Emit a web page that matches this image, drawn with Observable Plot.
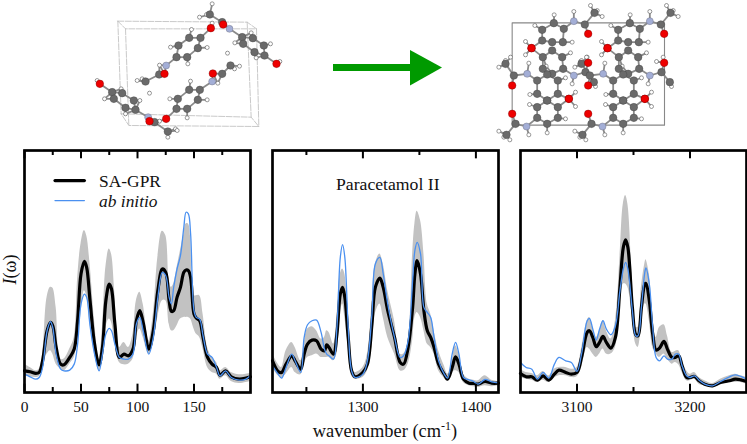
<!DOCTYPE html>
<html><head><meta charset="utf-8">
<script src="https://cdn.jsdelivr.net/npm/d3@7"></script>
<script src="https://cdn.jsdelivr.net/npm/@observablehq/plot@0.6"></script>
<style>
html,body{margin:0;padding:0;background:#fff}
#c{position:relative;width:747px;height:444px;overflow:hidden;font-family:"Liberation Serif",serif;color:#111}
#xl{position:absolute;left:285px;top:421px;width:200px;text-align:center;font-size:18.4px;white-space:nowrap}
#xl sup{font-size:12px;line-height:0}
#yl{position:absolute;left:-12px;top:259px;width:44px;text-align:center;font-size:18px;transform:rotate(-90deg)}
</style></head><body><div id="c"></div>
<script>
// Panel 1: 0–200 cm-1
const wn1=[0,5,10,13,16,20,23,25,28,32,35,40,44,47,50,53,55,58,62,66,69,72,75,77,80,84,88,92,96,99,102,105,110,114,118,122,125,128,130,132,135,138,141,143,145,147,150,152,155,158,162,166,170,173,178,183,190,196,200];
const mean1=[65,62,57,60,95,185,210,200,135,85,83,105,130,215,355,393,375,275,145,83,135,275,325,310,205,105,115,110,130,215,245,210,130,185,305,370,360,275,243,245,285,315,360,367,365,345,235,223,215,165,105,85,75,52,65,47,40,43,47];
const high1=[85,75,65,70,115,285,315,313,255,100,100,130,165,340,445,485,470,385,215,100,195,375,430,415,295,135,150,135,175,275,300,265,155,235,405,483,470,335,315,325,375,425,475,505,505,465,290,290,290,235,135,105,90,65,75,60,53,55,57];
const low1=[50,47,45,47,75,115,125,115,85,70,65,85,105,155,235,305,290,205,115,65,105,195,220,210,145,90,83,85,100,165,190,165,115,145,225,275,275,205,185,185,200,220,225,225,225,220,190,175,165,130,75,60,55,40,50,33,27,30,33];
const ab1=[55,47,40,45,75,185,212,195,115,70,65,67,85,145,265,295,285,200,115,65,115,175,192,185,145,105,100,100,115,205,225,185,115,165,285,360,350,285,265,315,370,410,495,540,535,475,245,225,220,170,115,105,75,50,65,45,37,40,52];
// Panel 2: 1220–1420 cm-1
const wn2=[1220,1225,1228,1232,1237,1240,1245,1248,1251,1255,1259,1263,1266,1268,1270,1274,1277,1280,1282,1284,1287,1290,1293,1300,1304,1308,1311,1315,1318,1322,1328,1333,1336,1340,1344,1346,1348,1351,1354,1357,1360,1363,1367,1372,1375,1379,1382,1385,1389,1394,1398,1402,1408,1414,1420];
const mean2=[95,63,60,85,110,95,70,115,145,157,155,130,125,143,135,115,175,295,315,285,165,65,47,60,85,205,315,343,315,245,165,90,85,135,255,355,395,355,245,185,165,135,85,55,40,75,107,85,40,28,27,25,33,28,28];
const high2=[115,85,75,125,150,135,95,145,190,197,185,160,165,185,180,145,225,355,370,355,195,85,60,75,115,265,385,415,385,305,215,115,115,155,415,505,543,515,415,265,235,185,125,80,55,95,140,115,55,40,37,35,50,37,33];
const low2=[75,50,43,55,75,60,53,85,105,110,115,105,105,105,105,95,115,235,265,225,135,50,40,45,65,135,235,265,225,165,115,65,65,85,155,225,240,225,185,145,135,115,65,43,33,60,65,60,30,20,17,15,20,17,20];
const ab2=[80,55,43,75,115,95,60,165,203,215,217,180,130,115,110,100,195,405,443,405,195,65,45,55,95,235,385,405,355,265,165,105,110,155,335,425,450,415,255,240,225,165,95,55,43,115,150,115,45,38,33,25,39,32,29];
// Panel 3: 3050–3250 cm-1
const wn3=[3050,3055,3060,3065,3070,3075,3080,3084,3090,3095,3100,3104,3109,3111,3114,3117,3120,3123,3126,3130,3134,3138,3141,3143,3145,3149,3152,3154,3157,3160,3161,3164,3167,3170,3173,3177,3180,3184,3187,3190,3193,3197,3200,3204,3208,3213,3220,3227,3235,3240,3245,3250];
const mean3=[57,47,47,37,50,37,55,67,60,55,60,105,180,185,165,137,150,168,150,133,165,315,435,457,435,255,173,170,255,325,327,275,175,127,133,153,130,105,105,110,80,45,45,48,35,25,20,30,35,40,38,33];
const high3=[70,60,57,50,63,50,70,75,75,70,75,130,215,225,195,165,185,215,185,160,215,405,565,590,565,335,195,195,315,385,398,355,225,165,195,203,170,120,123,125,95,65,55,60,45,35,27,40,50,55,50,45];
const low3=[45,40,37,30,37,30,43,50,50,45,47,75,135,130,115,105,115,130,115,115,135,255,325,325,315,225,145,135,195,265,265,215,135,115,105,115,100,85,90,83,60,35,35,40,25,20,15,23,30,30,30,25];
const ab3=[90,75,70,40,60,43,85,105,95,90,63,115,215,222,190,157,190,215,190,173,200,305,370,390,370,245,170,170,255,360,373,325,195,105,95,110,100,100,115,115,80,50,45,50,37,25,20,33,47,53,48,40];

const legendLabels=["SA-GPR","ab initio"];
const panelTitle="Paracetamol II";

// Molecular sketches: [x, y, element]
const cellLeft=[[[112,62],[500,65],[528,85],[135,85],[112,62]],[[122,340],[512,350],[535,378],[145,375],[122,340]],[[112,62],[122,340]],[[500,65],[512,350]],[[528,85],[535,378]],[[135,85],[145,375]]];
const molLeft=[
 [[391,83,"O"],[395,68,"H"],[326,112,"C"],[360,112,"C"],[352,143,"C"],[320,170,"C"],[288,170,"C"],[294,135,"C"],[333,87,"H"],[380,141,"H"],[270,140,"H"],[322,190,"H"],[257,195,"N"],[237,194,"H"],[236,222,"C"],[252,220,"O"],[195,243,"C"],[170,240,"H"],[185,235,"H"],[207,278,"H"]],
 [[397,219,"O"],[425,220,"C"],[450,195,"C"],[441,158,"H"],[477,197,"H"],[462,205,"H"],[395,243,"N"],[412,248,"H"],[358,268,"C"],[326,268,"C"],[292,295,"C"],[288,325,"C"],[320,325,"C"],[352,298,"C"],[330,242,"H"],[380,298,"H"],[268,295,"H"],[320,352,"H"],[257,355,"O"],[237,362,"H"]],
 [[395,10,"H"],[357,50,"H"],[378,42,"H"],[388,42,"C"],[425,65,"C"],[428,72,"O"],[447,85,"N"],[432,70,"H"],[485,110,"C"],[517,113,"C"],[550,135,"C"],[552,165,"C"],[522,155,"C"],[488,130,"C"],[512,97,"H"],[463,127,"H"],[527,172,"H"],[570,130,"H"],[588,190,"O"],[598,183,"H"]],
 [[58,250,"O"],[50,240,"H"],[95,275,"C"],[125,278,"C"],[160,300,"C"],[165,328,"C"],[135,322,"C"],[100,295,"C"],[122,265,"H"],[72,295,"H"],[135,340,"H"],[178,300,"H"],[203,350,"N"],[222,365,"C"],[207,362,"O"],[262,393,"C"],[285,385,"H"],[262,410,"H"],[290,390,"H"]]
];
const cellRight=[[[95,67],[552,67],[552,374],[95,374],[95,67]]];
const molRightBase=[
 [[280,62,"N"],[280,33,"H"],[313,72,"C"],[323,100,"O"],[342,37,"C"],[330,15,"H"],[350,30,"H"],[365,48,"H"],[220,68,"C"],[250,85,"C"],[247,125,"C"],[215,125,"C"],[185,120,"C"],[185,88,"C"],[221,43,"H"],[163,75,"H"],[275,125,"H"],[153,143,"O"],[135,123,"H"]],
 [[280,225,"N"],[275,250,"H"],[315,215,"C"],[323,187,"O"],[340,245,"C"],[300,183,"H"],[320,170,"H"],[345,258,"H"],[248,205,"C"],[245,170,"C"],[215,150,"C"],[187,170,"C"],[187,205,"C"],[215,220,"C"],[270,157,"H"],[197,197,"H"],[153,143,"O"],[135,163,"H"]],
 [[140,220,"N"],[145,188,"H"],[100,225,"C"],[95,255,"O"],[75,190,"C"],[55,200,"H"],[90,170,"H"],[75,180,"H"],[170,240,"C"],[200,222,"C"],[232,240,"C"],[232,280,"C"],[200,300,"C"],[170,280,"C"],[148,282,"H"],[255,232,"H"],[265,295,"O"],[285,275,"H"]],
 [[138,378,"N"],[145,403,"H"],[105,370,"C"],[95,340,"O"],[78,403,"C"],[55,392,"H"],[70,410,"H"],[88,418,"H"],[170,352,"C"],[200,370,"C"],[232,352,"C"],[232,320,"C"],[200,300,"C"],[170,320,"C"],[147,312,"H"],[200,397,"H"],[255,355,"H"],[265,295,"O"],[285,318,"H"]]
];
const latticeShift=228;
const arrowColor="#009a00";

const serif='"Liberation Serif",serif';
const blue="#4a90f0", band="#c2c2c2";
const host=document.getElementById("c");
const curve="catmull-rom";

function panel(left,xd,wn,mean,low,high,ab,majors,minors,extra){
  const rows=wn.map((x,i)=>({x,mean:mean[i],low:low[i],high:high[i],ab:ab[i]}));
  const svg=Plot.plot({
    width:242,height:304,marginLeft:10,marginRight:6,marginTop:10,marginBottom:52,
    style:{fontFamily:serif,background:"transparent",color:"#111"},
    x:{domain:xd,axis:null},y:{domain:[0,725],axis:null},
    marks:[
      Plot.areaY(rows,{x:"x",y1:"low",y2:"high",fill:band,curve}),
      Plot.lineY(rows,{x:"x",y:"mean",stroke:"#000",strokeWidth:3.2,curve}),
      Plot.lineY(rows,{x:"x",y:"ab",stroke:blue,strokeWidth:1.3,curve}),
      Plot.ruleX(majors,{y1:0,y2:25,stroke:"#000",strokeWidth:2}),
      Plot.ruleX(majors,{y1:700,y2:725,stroke:"#000",strokeWidth:2}),
      Plot.ruleX(minors,{y1:0,y2:15,stroke:"#000",strokeWidth:2}),
      Plot.ruleX(minors,{y1:710,y2:725,stroke:"#000",strokeWidth:2}),
      Plot.axisX({ticks:majors,tickSize:0,tickPadding:8,fontSize:15.5,label:null,tickFormat:d=>String(d),anchor:"bottom",fill:"#111"}),
      ...(extra||[]),
      Plot.frame({stroke:"#000",strokeWidth:2.7})
    ]
  });
  svg.style.left=(left-10)+"px";svg.style.top="140px";svg.style.position="absolute";
  host.appendChild(svg);
}

const legendMarks=[
  Plot.lineY([{x:27,y:635},{x:53,y:635}],{x:"x",y:"y",stroke:"#000",strokeWidth:3.2}),
  Plot.lineY([{x:27,y:575},{x:53,y:575}],{x:"x",y:"y",stroke:blue,strokeWidth:1.3}),
  Plot.text([legendLabels[0]],{x:66,y:632,text:d=>d,textAnchor:"start",fontSize:17.4,fill:"#111"}),
  Plot.text([legendLabels[1]],{x:66,y:573,text:d=>d,textAnchor:"start",fontSize:17.4,fontStyle:"italic",fill:"#111"})
];
const titleMark=[Plot.text([panelTitle],{x:1322,y:623,text:d=>d,fontSize:17.7,fill:"#111"})];

// Header sketch
function buildAtoms(mols,ox){return mols.flatMap(m=>m.map(([x,y,e])=>({x:ox+x/3,y:y/3,e})))}
function buildBonds(mols,ox){
  const out=[],d=(a,b)=>Math.hypot(a[0]-b[0],a[1]-b[1]);
  for(const m of mols){
    const heavy=m.filter(a=>a[2]!=="H");
    for(let i=0;i<m.length;i++)for(let j=i+1;j<m.length;j++){
      const a=m[i],b=m[j];
      if(a[2]==="H"&&b[2]==="H")continue;
      const hasH=a[2]==="H"||b[2]==="H",dab=d(a,b);
      if(dab>=(hasH?34:52))continue;
      if(!hasH&&heavy.some(k=>k!==a&&k!==b&&d(a,k)<dab&&d(b,k)<dab))continue;
      out.push({x1:ox+a[0]/3,y1:a[1]/3,x2:ox+b[0]/3,y2:b[1]/3});
    }
  }
  return out;
}
const molRight=[...molRightBase,...molRightBase.map(m=>m.map(([x,y,e])=>[x+latticeShift,y,e]))];
const atoms=[...buildAtoms(molLeft,80),...buildAtoms(molRight,480)];
const bonds=[...buildBonds(molLeft,80),...buildBonds(molRight,480)];
const cellL=cellLeft.map((s,k)=>s.map(([x,y])=>({x:80+x/3,y:y/3,k})));
const cellR=cellRight.map((s,k)=>s.map(([x,y])=>({x:480+x/3,y:y/3,k})));
const el=e=>atoms.filter(a=>a.e===e);
const head=Plot.plot({
  width:747,height:148,margin:0,x:{domain:[0,747],axis:null},y:{domain:[148,0],axis:null},
  style:{background:"transparent"},
  marks:[
    ...cellL.map(s=>Plot.line(s,{x:"x",y:"y",stroke:"#bbb",strokeWidth:0.8,strokeDasharray:"6 1.5"})),
    ...cellR.map(s=>Plot.line(s,{x:"x",y:"y",stroke:"#888",strokeWidth:1.1})),
    Plot.link(bonds,{x1:"x1",y1:"y1",x2:"x2",y2:"y2",stroke:"#8a8a8a",strokeWidth:1.8}),
    Plot.dot(el("H"),{x:"x",y:"y",r:2,fill:"#fff",stroke:"#555",strokeWidth:0.6}),
    Plot.dot(el("C"),{x:"x",y:"y",r:3.8,fill:"#6a6a6a",stroke:"#444",strokeWidth:0.4}),
    Plot.dot(el("N"),{x:"x",y:"y",r:3.5,fill:"#a3aed6",stroke:"#667",strokeWidth:0.4}),
    Plot.dot(el("O"),{x:"x",y:"y",r:3.8,fill:"#ee0000",stroke:"#700",strokeWidth:0.4}),
    Plot.rect([{x1:333,x2:411,y1:64,y2:71}],{x1:"x1",x2:"x2",y1:"y1",y2:"y2",fill:arrowColor}),
    Plot.areaX([{x1:410,x2:410,y:50},{x1:410,x2:442,y:67.4},{x1:410,x2:410,y:85.5}],{y:"y",x1:"x1",x2:"x2",fill:arrowColor})
  ]
});
head.style.position="absolute";head.style.left="0";head.style.top="0";
host.appendChild(head);

panel(24,[0,200],wn1,mean1,low1,high1,ab1,[0,50,100,150],[25,75,125,175],legendMarks);
panel(272,[1220,1420],wn2,mean2,low2,high2,ab2,[1300,1400],[1250,1350],titleMark);
panel(520,[3050,3250],wn3,mean3,low3,high3,ab3,[3100,3200],[3150],[]);

const xl=document.createElement("div");xl.id="xl";xl.innerHTML="wavenumber (cm<sup>-1</sup>)";host.appendChild(xl);
const yl=document.createElement("div");yl.id="yl";yl.innerHTML="<i>I</i>(ω)";host.appendChild(yl);
</script></body></html>
